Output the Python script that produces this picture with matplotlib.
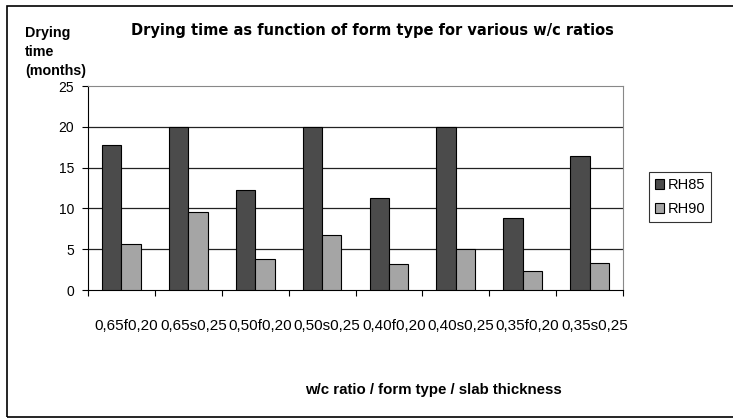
import matplotlib
matplotlib.use("Agg")
import matplotlib.pyplot as plt
from matplotlib.patches import Rectangle
import numpy as np

plt.rcParams['font.family'] = ['Liberation Sans', 'DejaVu Sans']

categories = ["0,65f0,20", "0,65s0,25", "0,50f0,20", "0,50s0,25",
              "0,40f0,20", "0,40s0,25", "0,35f0,20", "0,35s0,25"]
rh85 = [17.8, 20.0, 12.25, 20.0, 11.3, 20.0, 8.8, 16.4]
rh90 = [5.6, 9.5, 3.8, 6.7, 3.15, 5.05, 2.3, 3.3]
yticks = [0, 5, 10, 15, 20, 25]

W, H = 733, 418
fig = plt.figure(figsize=(W / 100, H / 100), dpi=100)

# outer frame
fig.patches.append(Rectangle((7 / W, 1.5 / H), 1.2, (416.5 - 6) / H,
                             transform=fig.transFigure, fill=False,
                             edgecolor='black', linewidth=1.2))

ax = fig.add_axes([88 / W, (H - 290) / H, (623 - 88) / W, (290 - 86) / H])

x = np.arange(len(categories))
bw = 0.29
ax.bar(x - bw / 2, rh85, bw, color='#4b4b4b', edgecolor='black', linewidth=0.8,
       label='RH85', zorder=3)
ax.bar(x + bw / 2, rh90, bw, color='#a5a5a5', edgecolor='black', linewidth=0.8,
       label='RH90', zorder=3)

ax.set_xlim(-0.5, len(categories) - 0.5)
ax.set_ylim(0, 25)
ax.set_yticks(yticks)
ax.set_yticklabels([str(v) for v in yticks], fontsize=10)
for v in yticks[1:-1]:
    ax.axhline(v, color='#222222', linewidth=0.9, zorder=1)

ax.set_xticks(np.arange(len(categories) + 1) - 0.5)
ax.set_xticklabels([])
ax.tick_params(axis='x', direction='out', length=4, width=0.8)
ax.tick_params(axis='y', direction='out', length=4, width=0.8, pad=6)

# category labels, slightly right of the category centres as in the reference
px_per_cat = (623 - 88) / len(categories)
for i, c in enumerate(categories):
    ax.text(i + 5 / px_per_cat, -4.4, c, ha='center', va='center', fontsize=11)

ax.spines['top'].set_color('#888888')
ax.spines['right'].set_color('#888888')
ax.spines['left'].set_color('black')
ax.spines['bottom'].set_color('black')

fig.text(372 / W, 1 - 30 / H, "Drying time as function of form type for various w/c ratios",
         ha='center', va='center', fontsize=10.5, fontweight='bold',
         family=['DejaVu Sans'])
fig.text(25 / W, 1 - 52 / H, "Drying\ntime\n(months)", ha='left', va='center',
         fontsize=10.3, fontweight='bold', linespacing=1.43)
fig.text(433.5 / W, 1 - 390 / H, "w/c ratio / form type / slab thickness",
         ha='center', va='center', fontsize=10.8, fontweight='bold')

leg = fig.legend(loc='center', bbox_to_anchor=(680 / W, 1 - 197 / H), fontsize=10.5,
                 frameon=True, fancybox=False, edgecolor='black',
                 handlelength=0.65, handleheight=0.65, handletextpad=0.25,
                 borderpad=0.4, labelspacing=0.7, borderaxespad=0)
leg.get_frame().set_linewidth(0.8)

fig.savefig("out.png", dpi=100)
